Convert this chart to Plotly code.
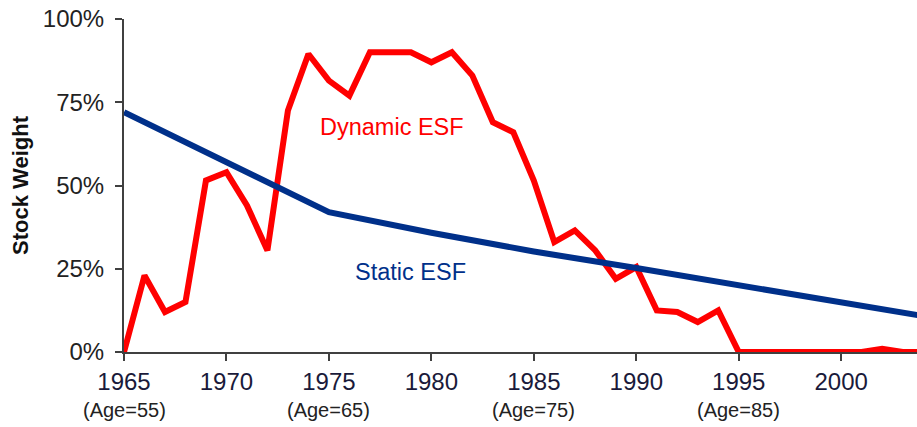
"""Stock weight: dynamic vs static ESF."""

import plotly.graph_objects as go

dyn_years = list(range(1965, 2005))
dyn_weight = [0, 23, 12, 15, 51.5, 54, 44, 30.5, 72.5, 89.5,
              81.5, 77, 90, 90, 90, 87, 90, 83, 69, 66,
              51.5, 33, 36.5, 30.5, 22, 25.5, 12.5, 12, 9, 12.5,
              0, 0, 0, 0, 0, 0, 0, 1, 0, 0]

static_years = [1965, 1970, 1975, 1980, 1985, 1990, 1995, 2000, 2004]
static_weight = [72, 57, 42, 35.8, 30.2, 25.2, 20.2, 15.2, 10.8]

year_ticks = [1965, 1970, 1975, 1980, 1985, 1990, 1995, 2000]
age_years = [1965, 1975, 1985, 1995]
age_labels = ["(Age=55)", "(Age=65)", "(Age=75)", "(Age=85)"]

RED = "#FF0000"
NAVY = "#00308A"
FONT = "Liberation Sans, Arial, sans-serif"

fig = go.Figure()
fig.add_scatter(x=dyn_years, y=dyn_weight, mode="lines", name="Dynamic ESF",
                line=dict(color=RED, width=6))
fig.add_scatter(x=static_years, y=static_weight, mode="lines", name="Static ESF",
                line=dict(color=NAVY, width=6))

fig.add_annotation(x=1978.1, y=67.5, text="Dynamic ESF", showarrow=False,
                   font=dict(color=RED, size=23.5, family=FONT))
fig.add_annotation(x=1979, y=24, text="Static ESF", showarrow=False,
                   font=dict(color=NAVY, size=23.5, family=FONT))
for yr, lab in zip(age_years, age_labels):
    fig.add_annotation(x=yr, y=-0.174, yref="paper", yanchor="middle", text=lab,
                       showarrow=False, font=dict(color="#222", size=20, family=FONT))

fig.update_layout(
    width=917, height=427, showlegend=False,
    plot_bgcolor="white", paper_bgcolor="white",
    margin=dict(l=124, r=0, t=19, b=75),
    font=dict(family=FONT, color="#222"),
    xaxis=dict(range=[1965, 2003.7], tickvals=year_ticks, showgrid=False,
               zeroline=False, showline=True, linecolor="#404040", linewidth=2,
               ticks="outside", ticklen=7, tickwidth=2, tickcolor="#404040",
               tickfont=dict(size=24, color="#1a1a3a")),
    yaxis=dict(range=[0, 100], tickvals=[0, 25, 50, 75, 100],
               ticktext=["0%", "25%", "50%", "75%", "100%"], showgrid=False,
               zeroline=False, showline=True, linecolor="#404040", linewidth=2,
               ticks="outside", ticklen=7, tickwidth=2, tickcolor="#404040",
               ticklabelstandoff=6, tickfont=dict(size=24, color="#222"),
               title=dict(text="<b>Stock Weight</b>", standoff=8,
                          font=dict(size=22, color="#111"))),
)

fig.write_html("out.html", config={"displayModeBar": False},
               post_script="document.body.style.margin='0';")
